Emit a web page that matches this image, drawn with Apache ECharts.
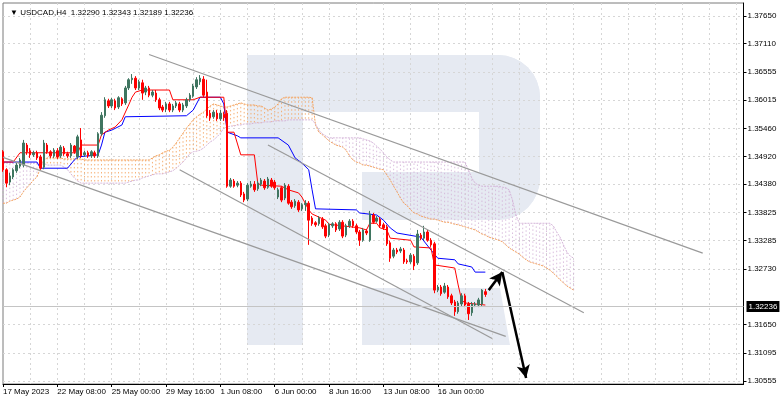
<!DOCTYPE html>
<html>
<head>
<meta charset="utf-8">
<title>USDCAD H4</title>
<script src="https://cdn.jsdelivr.net/npm/echarts@6.0.0/dist/echarts.min.js"></script>
<style>
  html, body { margin: 0; padding: 0; background: #fff; }
  #chart { width: 782px; height: 402px; }
</style>
</head>
<body>
<div id="chart"></div>
<script>
// H4 bars, 17 May 2023 16:00 onwards
const xTickLabels = ['17 May 2023', '22 May 08:00', '25 May 00:00', '29 May 16:00', '1 Jun 08:00',
  '6 Jun 00:00', '8 Jun 16:00', '13 Jun 08:00', '16 Jun 00:00'];
const yTicks = [1.30555, 1.31095, 1.31650, 1.32730, 1.33285, 1.33825, 1.34380,
  1.34920, 1.35460, 1.36015, 1.36555, 1.37110, 1.37650];
const lastPrice = 1.32236;

const opens = [
  1.3501,1.3466,1.3442,1.3452,1.3464,1.3473,1.3475,1.3514,1.3503,1.3495,
  1.3499,1.3491,1.3471,1.3514,1.3501,1.3493,1.3503,1.3493,1.3508,1.3497,
  1.3493,1.3512,1.3491,1.3524,1.3495,1.3499,1.3493,1.3499,1.3493,1.3536,
  1.3571,1.3600,1.3590,1.3600,1.3588,1.3604,1.3596,1.3625,1.3641,1.3644,
  1.3625,1.3635,1.3617,1.3625,1.3611,1.3615,1.3602,1.3588,1.3584,1.3594,
  1.3582,1.3590,1.3594,1.3582,1.3590,1.3602,1.3609,1.3627,1.3637,1.3642,
  1.3617,1.3576,1.3569,1.3576,1.3565,1.3574,1.3576,1.3434,1.3444,1.3436,
  1.3440,1.3419,1.3409,1.3434,1.3438,1.3429,1.3438,1.3444,1.3432,1.3446,
  1.3442,1.3413,1.3431,1.3411,1.3434,1.3403,1.3396,1.3403,1.3390,1.3398,
  1.3401,1.3372,1.3363,1.3361,1.3370,1.3357,1.3339,1.3357,1.3361,1.3351,
  1.3364,1.3339,1.3357,1.3366,1.3357,1.3345,1.3329,1.3347,1.3329,1.3378,
  1.3366,1.3370,1.3359,1.3355,1.3324,1.3298,1.3310,1.3308,1.3310,1.3289,
  1.3287,1.3298,1.3285,1.3339,1.3333,1.3345,1.3329,1.3322,1.3232,1.3238,
  1.3228,1.3238,1.3221,1.3209,1.3190,1.3205,1.3221,1.3205,1.3188,1.3203,
  1.3203,1.3205,1.32290
];
const closes = [
  1.3466,1.3440,1.3454,1.3466,1.3475,1.3485,1.3518,1.3501,1.3495,1.3499,
  1.3489,1.3469,1.3518,1.3501,1.3493,1.3504,1.3491,1.3510,1.3497,1.3493,
  1.3514,1.3501,1.3530,1.3493,1.3499,1.3493,1.3501,1.3493,1.3536,1.3572,
  1.3602,1.3590,1.3602,1.3586,1.3606,1.3594,1.3625,1.3641,1.3644,1.3625,
  1.3637,1.3615,1.3625,1.3611,1.3617,1.3602,1.3586,1.3582,1.3594,1.3582,
  1.3590,1.3596,1.3582,1.3592,1.3602,1.3611,1.3629,1.3641,1.3644,1.3611,
  1.3571,1.3567,1.3578,1.3565,1.3576,1.3567,1.3434,1.3446,1.3434,1.3440,
  1.3417,1.3407,1.3436,1.3438,1.3427,1.3440,1.3446,1.3431,1.3448,1.3434,
  1.3431,1.3427,1.3407,1.3436,1.3401,1.3394,1.3405,1.3388,1.3398,1.3401,
  1.3368,1.3361,1.3359,1.3372,1.3355,1.3337,1.3359,1.3361,1.3349,1.3364,
  1.3337,1.3357,1.3366,1.3357,1.3345,1.3329,1.3349,1.3343,1.3380,1.3364,
  1.3372,1.3357,1.3353,1.3322,1.3294,1.3310,1.3306,1.3312,1.3287,1.3287,
  1.3300,1.3279,1.3341,1.3333,1.3345,1.3329,1.3320,1.3232,1.3238,1.3225,
  1.3240,1.3219,1.3207,1.3190,1.3207,1.3221,1.3203,1.3186,1.3205,1.3205,
  1.3213,1.3232,1.32236
];
const lows = [
  1.3462,1.3432,1.3436,1.3448,1.3460,1.3469,1.3471,1.3495,1.3489,1.3491,
  1.3485,1.3466,1.3467,1.3497,1.3489,1.3489,1.3487,1.3489,1.3493,1.3489,
  1.3489,1.3497,1.3487,1.3489,1.3491,1.3489,1.3489,1.3489,1.3489,1.3532,
  1.3567,1.3586,1.3586,1.3582,1.3584,1.3590,1.3592,1.3621,1.3633,1.3621,
  1.3621,1.3602,1.3611,1.3607,1.3607,1.3598,1.3582,1.3578,1.3578,1.3578,
  1.3578,1.3586,1.3578,1.3578,1.3586,1.3598,1.3606,1.3623,1.3631,1.3607,
  1.3567,1.3561,1.3565,1.3561,1.3561,1.3561,1.3431,1.3431,1.3431,1.3432,
  1.3413,1.3403,1.3405,1.3431,1.3423,1.3425,1.3434,1.3427,1.3429,1.3431,
  1.3427,1.3409,1.3403,1.3407,1.3398,1.3390,1.3392,1.3384,1.3386,1.3386,
  1.3320,1.3357,1.3355,1.3357,1.3351,1.3333,1.3335,1.3353,1.3345,1.3347,
  1.3333,1.3335,1.3353,1.3353,1.3341,1.3318,1.3326,1.3339,1.3326,1.3361,
  1.3363,1.3353,1.3349,1.3318,1.3287,1.3294,1.3302,1.3304,1.3283,1.3283,
  1.3283,1.3271,1.3281,1.3329,1.3329,1.3326,1.3316,1.3226,1.3228,1.3221,
  1.3225,1.3215,1.3203,1.3182,1.3186,1.3201,1.3199,1.3174,1.3182,1.3199,
  1.3199,1.3201,1.32189
];
const highs = [
  1.3504,1.3469,1.3460,1.3469,1.3479,1.3489,1.3524,1.3518,1.3508,1.3503,
  1.3503,1.3495,1.3524,1.3518,1.3504,1.3508,1.3508,1.3514,1.3512,1.3501,
  1.3518,1.3514,1.3534,1.3547,1.3503,1.3503,1.3504,1.3503,1.3539,1.3578,
  1.3607,1.3604,1.3606,1.3604,1.3609,1.3607,1.3629,1.3644,1.3652,1.3648,
  1.3641,1.3641,1.3629,1.3629,1.3621,1.3621,1.3606,1.3592,1.3598,1.3598,
  1.3594,1.3600,1.3598,1.3596,1.3606,1.3615,1.3633,1.3646,1.3650,1.3648,
  1.3641,1.3582,1.3582,1.3582,1.3582,1.3578,1.3582,1.3450,1.3448,1.3444,
  1.3444,1.3423,1.3440,1.3444,1.3444,1.3444,1.3450,1.3448,1.3452,1.3450,
  1.3446,1.3431,1.3434,1.3440,1.3438,1.3407,1.3409,1.3407,1.3401,1.3407,
  1.3405,1.3376,1.3366,1.3376,1.3374,1.3361,1.3363,1.3364,1.3364,1.3368,
  1.3368,1.3361,1.3370,1.3370,1.3361,1.3349,1.3353,1.3351,1.3386,1.3382,
  1.3376,1.3374,1.3363,1.3359,1.3328,1.3314,1.3314,1.3316,1.3314,1.3293,
  1.3304,1.3302,1.3349,1.3343,1.3357,1.3349,1.3333,1.3326,1.3242,1.3242,
  1.3246,1.3242,1.3225,1.3213,1.3211,1.3226,1.3225,1.3209,1.3209,1.3209,
  1.3217,1.3234,1.32343
];

// Ichimoku: Tenkan-sen / Kijun-sen (bar index, price at each turn)
const tenkan = [
  [0,1.3481],[3,1.3481],[5,1.3499],[22,1.3499],[23,1.3514],[28,1.3514],[29,1.3534],
  [31,1.3543],[33,1.3549],[35,1.3563],[37,1.3592],[38,1.3607],[39,1.3617],[41,1.3621],
  [49,1.3621],[50,1.3602],[56,1.3602],[58,1.3607],[65,1.3607],[66,1.3539],[68,1.3539],
  [70,1.3495],[74,1.3495],[75,1.3440],[76,1.3436],[82,1.3434],[84,1.3427],[87,1.3421],
  [88,1.3413],[90,1.3388],[91,1.3380],[95,1.3368],[96,1.3360],[105,1.3353],[107,1.3349],
  [108,1.3362],[110,1.3362],[111,1.3353],[113,1.3349],[114,1.3333],[120,1.3329],
  [121,1.3316],[126,1.3314],[127,1.3281],[133,1.3275],[134,1.3242],[135,1.3213],
  [136,1.3207],[142,1.3203]
];
const kijun = [
  [0,1.3481],[10,1.3481],[11,1.3469],[19,1.3469],[21,1.3485],[22,1.3491],[28,1.3495],
  [29,1.3514],[30,1.3539],[32,1.3543],[35,1.3553],[36,1.3569],[54,1.3571],[56,1.3582],
  [58,1.3607],[64,1.3607],[65,1.3594],[66,1.3539],[69,1.3532],[70,1.3528],[81,1.3528],
  [84,1.3514],[86,1.3489],[88,1.3479],[90,1.3466],[91,1.3427],[92,1.3390],[104,1.3388],
  [105,1.3382],[110,1.3378],[112,1.3368],[114,1.3353],[116,1.3343],[123,1.3335],
  [126,1.3310],[128,1.3294],[133,1.3291],[134,1.3283],[138,1.3277],[139,1.3267],[142,1.3267]
];

// Senkou span A / B, per bar (cloud runs 26 bars past the last candle)
const spanA = [
  1.3401,1.3401,1.3405,1.3407,1.3409,1.3413,1.3423,1.3431,1.3438,1.3446,
  1.3452,1.3469,1.3485,1.3489,1.3489,1.3489,1.3489,1.3489,1.3487,1.3487,
  1.3487,1.3487,1.3487,1.3487,1.3485,1.3485,1.3485,1.3485,1.3485,1.3485,
  1.3485,1.3485,1.3485,1.3485,1.3485,1.3485,1.3485,1.3485,1.3485,1.3485,
  1.3485,1.3485,1.3485,1.3485,1.3489,1.3493,1.3495,1.3499,1.3502,1.3504,
  1.3510,1.3518,1.3528,1.3537,1.3547,1.3555,1.3563,1.3569,1.3574,1.3578,
  1.3584,1.3590,1.3594,1.3592,1.3590,1.3588,1.3588,1.3590,1.3592,1.3594,
  1.3596,1.3594,1.3592,1.3592,1.3592,1.3590,1.3590,1.3586,1.3582,1.3584,
  1.3588,1.3594,1.3604,1.3607,1.3607,1.3607,1.3607,1.3607,1.3607,1.3607,
  1.3607,1.3606,1.3553,1.3539,1.3534,1.3528,1.3522,1.3518,1.3514,1.3512,
  1.3510,1.3504,1.3493,1.3485,1.3481,1.3479,1.3475,1.3475,1.3473,1.3471,
  1.3469,1.3467,1.3466,1.3456,1.3446,1.3434,1.3423,1.3411,1.3401,1.3396,
  1.3388,1.3382,1.3380,1.3376,1.3374,1.3372,1.3370,1.3370,1.3368,1.3366,
  1.3364,1.3364,1.3362,1.3360,1.3359,1.3357,1.3355,1.3353,1.3351,1.3349,
  1.3345,1.3341,1.3339,1.3335,1.3333,1.3331,1.3329,1.3326,1.3320,1.3314,
  1.3310,1.3306,1.3302,1.3296,1.3291,1.3287,1.3285,1.3283,1.3281,1.3279,
  1.3275,1.3271,1.3265,1.3259,1.3252,1.3246,1.3240,1.3236,1.3232
];
const spanB = [
  1.3479,1.3479,1.3479,1.3479,1.3479,1.3479,1.3479,1.3479,1.3479,1.3479,
  1.3479,1.3479,1.3479,1.3475,1.3475,1.3475,1.3475,1.3475,1.3471,1.3466,
  1.3458,1.3450,1.3444,1.3440,1.3440,1.3440,1.3440,1.3440,1.3440,1.3440,
  1.3440,1.3440,1.3440,1.3440,1.3440,1.3440,1.3440,1.3442,1.3444,1.3446,
  1.3446,1.3450,1.3452,1.3454,1.3456,1.3458,1.3458,1.3458,1.3460,1.3462,
  1.3464,1.3469,1.3475,1.3481,1.3489,1.3497,1.3501,1.3502,1.3504,1.3508,
  1.3514,1.3520,1.3524,1.3530,1.3537,1.3547,1.3549,1.3551,1.3551,1.3553,
  1.3553,1.3555,1.3555,1.3555,1.3557,1.3557,1.3557,1.3559,1.3559,1.3559,
  1.3561,1.3561,1.3561,1.3561,1.3563,1.3563,1.3563,1.3563,1.3563,1.3563,
  1.3563,1.3563,1.3555,1.3543,1.3536,1.3532,1.3528,1.3528,1.3528,1.3528,
  1.3528,1.3528,1.3528,1.3528,1.3528,1.3528,1.3526,1.3524,1.3522,1.3518,
  1.3512,1.3506,1.3499,1.3491,1.3485,1.3481,1.3481,1.3481,1.3481,1.3481,
  1.3481,1.3481,1.3481,1.3481,1.3481,1.3481,1.3481,1.3481,1.3481,1.3481,
  1.3481,1.3481,1.3481,1.3481,1.3481,1.3481,1.3481,1.3466,1.3450,1.3440,
  1.3436,1.3434,1.3434,1.3434,1.3434,1.3434,1.3434,1.3432,1.3431,1.3427,
  1.3407,1.3378,1.3362,1.3362,1.3362,1.3362,1.3362,1.3362,1.3362,1.3362,
  1.3362,1.3362,1.3357,1.3345,1.3335,1.3320,1.3306,1.3298,1.3294
];

// hand-drawn channel lines: [bar, price] start and end
const channels = [
  [[43, 1.3690], [206, 1.3304]],
  [[78, 1.3514], [171, 1.3188]],
  [[52, 1.3466], [144, 1.3138]],
  [[0, 1.3490], [148, 1.3142]]
];
// forecast arrows
const arrows = [
  [[143, 1.3232], [147, 1.3267]],
  [[147, 1.3267], [154, 1.3061]]
];

const barCount = 219;
const FONT = '"Liberation Sans", "DejaVu Sans", sans-serif';
const BULL = '#3f7560';
const BEAR = '#ff0000';
const GRIDLINE = { color: '#d6d6d6', type: [2, 3], width: 1 };

const categories = Array.from({ length: barCount }, (_, i) => String(i));
const candleData = opens.map((o, i) => [o, closes[i], lows[i], highs[i]]);
const cloudData = spanA.map((a, i) => [i, a, spanB[i]]);
const isLabelBar = (i) => i % 16 === 0 && i <= 128;

const chart = echarts.init(document.getElementById('chart'));

const logo = '#e6eaf2';
chart.setOption({
  animation: false,
  title: {
    text: '▼ USDCAD,H4  1.32290 1.32343 1.32189 1.32236',
    left: 5, top: 4,
    textStyle: { fontSize: 8, fontWeight: 'normal', color: '#000', fontFamily: FONT }
  },
  graphic: [
    { type: 'rect', z: -10, shape: { x: 247, y: 55, width: 56, height: 290 }, style: { fill: logo } },
    { type: 'rect', z: -10, shape: { x: 247, y: 55, width: 293, height: 57, r: [0, 42, 0, 0] }, style: { fill: logo } },
    { type: 'rect', z: -10, shape: { x: 479, y: 55, width: 61, height: 165, r: [0, 42, 42, 0] }, style: { fill: logo } },
    { type: 'rect', z: -10, shape: { x: 362, y: 172, width: 178, height: 48, r: [0, 0, 42, 0] }, style: { fill: logo } },
    { type: 'polygon', z: -10, shape: { points: [[362, 288], [500, 288], [510, 345], [362, 345]] }, style: { fill: logo } }
  ],
  grid: { left: 2.5, right: 38.5, top: 3, bottom: 18, show: true, borderColor: '#7a7a7a', borderWidth: 1 },
  xAxis: {
    type: 'category',
    data: categories,
    boundaryGap: false,
    axisLine: { lineStyle: { color: '#000' } },
    axisTick: { interval: isLabelBar, length: 3, lineStyle: { color: '#000' } },
    axisLabel: {
      interval: isLabelBar,
      formatter: (v, i) => xTickLabels[i / 16] || '',
      align: 'left', margin: 4,
      fontSize: 8, color: '#000', fontFamily: FONT
    },
    splitLine: { show: true, interval: (i) => i % 8 === 0 && i > 0, lineStyle: GRIDLINE }
  },
  yAxis: {
    type: 'value',
    position: 'right',
    min: 1.3049504,
    max: 1.3790168,
    axisLine: { show: true, lineStyle: { color: '#000' } },
    axisTick: { show: true, length: 3, customValues: yTicks, lineStyle: { color: '#000' } },
    axisLabel: {
      customValues: yTicks,
      formatter: (v) => v.toFixed(5),
      margin: 4, fontSize: 8, color: '#000', fontFamily: FONT
    },
    splitLine: { show: true, lineStyle: GRIDLINE }
  },
  series: [
    {
      // cloud hatch: one dotted vertical stroke per bar between the spans
      type: 'custom',
      data: cloudData,
      encode: { x: 0, y: [1, 2] },
      silent: true,
      z: 1,
      renderItem: (params, api) => {
        const a = api.value(1), b = api.value(2);
        const p1 = api.coord([api.value(0), a]);
        const p2 = api.coord([api.value(0), b]);
        return {
          type: 'line',
          shape: { x1: p1[0], y1: p1[1], x2: p2[0], y2: p2[1] },
          style: { stroke: a >= b ? '#f4a460' : '#d4b4d8', lineWidth: 1, lineDash: [1.5, 2.5], opacity: 0.85 }
        };
      }
    },
    {
      type: 'line', data: spanA, symbol: 'none', silent: true, z: 2,
      lineStyle: { color: '#f4a460', width: 1, type: [2, 1] }
    },
    {
      type: 'line', data: spanB, symbol: 'none', silent: true, z: 2,
      lineStyle: { color: '#d4b4d8', width: 1, type: [2, 1] }
    },
    {
      type: 'line', data: kijun, symbol: 'none', silent: true, z: 3,
      lineStyle: { color: '#0000ff', width: 1 },
      markLine: {
        silent: true,
        symbol: 'none',
        label: { show: false },
        data: channels.map(([s, e]) => [
          { coord: s, lineStyle: { color: '#9a9a9a', width: 1.2, type: 'solid' } },
          { coord: e }
        ]).concat(arrows.map(([s, e]) => [
          { coord: s, symbol: 'none', lineStyle: { color: '#000', width: 2.5, type: 'solid' } },
          { coord: e, symbol: 'arrow', symbolSize: [10, 13] }
        ]))
      }
    },
    {
      type: 'line', data: tenkan, symbol: 'none', silent: true, z: 3,
      lineStyle: { color: '#ff0000', width: 1 }
    },
    {
      type: 'candlestick',
      data: candleData,
      barWidth: 2,
      z: 4,
      itemStyle: { color: BULL, color0: BEAR, borderColor: BULL, borderColor0: BEAR, borderWidth: 1 },
      markLine: {
        silent: true,
        symbol: 'none',
        data: [{ yAxis: lastPrice }],
        lineStyle: { color: '#c4c4c4', width: 1, type: 'solid' },
        label: {
          position: 'end', distance: 3,
          formatter: lastPrice.toFixed(5),
          backgroundColor: '#000', color: '#fff', padding: [2, 2, 1, 2],
          fontSize: 8, fontFamily: FONT
        }
      }
    }
  ]
});
</script>
</body>
</html>
